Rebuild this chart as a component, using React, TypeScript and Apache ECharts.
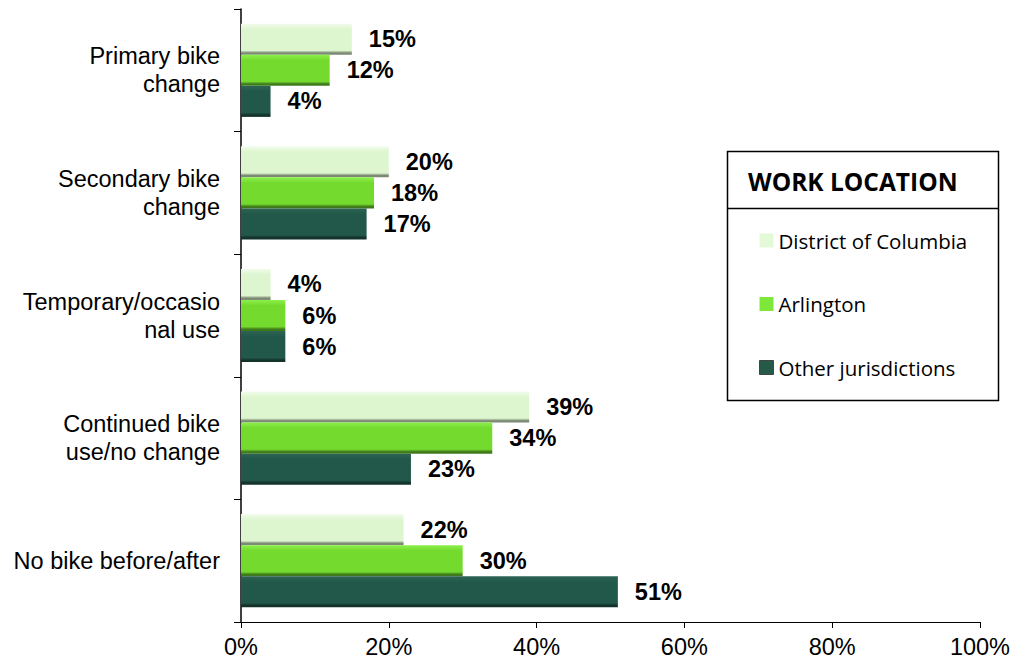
import React, { useEffect, useRef } from "react";
import * as echarts from "echarts";

// Response categories (top to bottom)
const categories = [
  "Primary bike\nchange",
  "Secondary bike\nchange",
  "Temporary/occasio\nnal use",
  "Continued bike\nuse/no change",
  "No bike before/after",
];

// Share of respondents (%) by work location
const districtOfColumbia = [15, 20, 4, 39, 22];
const arlington = [12, 18, 6, 34, 30];
const otherJurisdictions = [4, 17, 6, 23, 51];

const xTicks = [0, 20, 40, 60, 80, 100];

const FONT = "'Liberation Sans', Arial, sans-serif";
const LEGEND_FONT = "'Open Sans', 'Noto Sans', sans-serif";

function barGradient(top: string, main: string, edge: string) {
  return new echarts.graphic.LinearGradient(0, 0, 0, 1, [
    { offset: 0, color: top },
    { offset: 0.18, color: main },
    { offset: 0.86, color: main },
    { offset: 0.94, color: edge },
    { offset: 1, color: edge },
  ]);
}

export default function App() {
  const ref = useRef<HTMLDivElement>(null);

  useEffect(() => {
    if (!ref.current) return;
    document.body.style.margin = "0";
    const chart = echarts.init(ref.current, null, { renderer: "svg" });

    const label = {
      show: true,
      position: "right" as const,
      distance: 17,
      formatter: "{c}%",
      fontFamily: FONT,
      fontSize: 23.5,
      fontWeight: "bold" as const,
      color: "#000",
    };

    const series = [
      {
        name: "District of Columbia",
        data: districtOfColumbia,
        color: barGradient("#f2fcec", "#def6d0", "#7c8a74"),
      },
      {
        name: "Arlington",
        data: arlington,
        color: barGradient("#8cf04a", "#74da2e", "#3f7a1a"),
      },
      {
        name: "Other jurisdictions",
        data: otherJurisdictions,
        color: barGradient("#2c6452", "#22584a", "#12322a"),
      },
    ].map((s) => ({
      type: "bar" as const,
      name: s.name,
      data: s.data,
      barGap: "0%",
      barCategoryGap: "24%",
      itemStyle: { color: s.color },
      label,
    }));

    chart.setOption({
      animation: false,
      backgroundColor: "#fff",
      grid: { left: 241, right: 33, top: 9, bottom: 44, containLabel: false },
      xAxis: {
        type: "value",
        min: xTicks[0],
        max: xTicks[xTicks.length - 1],
        interval: 20,
        axisLine: { show: true, lineStyle: { color: "#000", width: 1 } },
        axisTick: { show: true, length: 6, lineStyle: { color: "#000" } },
        splitLine: { show: false },
        axisLabel: {
          margin: 13,
          fontFamily: FONT,
          fontSize: 23.5,
          color: "#000",
          formatter: "{value}%",
        },
      },
      yAxis: {
        type: "category",
        inverse: true,
        data: categories,
        axisLine: { show: true, lineStyle: { color: "#000", width: 1.5 } },
        axisTick: { show: true, length: 7, inside: false, lineStyle: { color: "#000" } },
        axisLabel: {
          margin: 21,
          fontFamily: FONT,
          fontSize: 23.5,
          lineHeight: 28,
          color: "#000",
          align: "right",
        },
      },
      legend: {
        orient: "vertical",
        left: 759,
        top: 230,
        padding: 0,
        itemWidth: 14,
        itemHeight: 14,
        itemGap: 42.5,
        icon: "rect",
        selectedMode: false,
        textStyle: {
          fontFamily: LEGEND_FONT,
          fontSize: 20.5,
          color: "#000",
        },
        data: [
          { name: "District of Columbia", itemStyle: { color: "#e4f9d8" } },
          { name: "Arlington", itemStyle: { color: "#7ee83a" } },
          {
            name: "Other jurisdictions",
            itemStyle: { color: "#255a48", borderColor: "#444", borderWidth: 1 },
          },
        ],
      },
      graphic: [
        {
          type: "rect",
          shape: { x: 727.5, y: 151.5, width: 271, height: 249 },
          style: { fill: "none", stroke: "#000", lineWidth: 1.5 },
          z: 10,
        },
        {
          type: "line",
          shape: { x1: 727.5, y1: 208.5, x2: 998.5, y2: 208.5 },
          style: { stroke: "#000", lineWidth: 1.5 },
          z: 10,
        },
        {
          type: "text",
          x: 748,
          y: 181,
          style: {
            text: "WORK LOCATION",
            fontFamily: LEGEND_FONT,
            fontSize: 24.5,
            fontWeight: "bold",
            fill: "#000",
            verticalAlign: "middle",
          },
          z: 10,
        },
      ],
      series,
    });

    return () => chart.dispose();
  }, []);

  return (
    <div
      ref={ref}
      style={{ position: "fixed", left: 0, top: 0, width: 1013, height: 666 }}
    />
  );
}
